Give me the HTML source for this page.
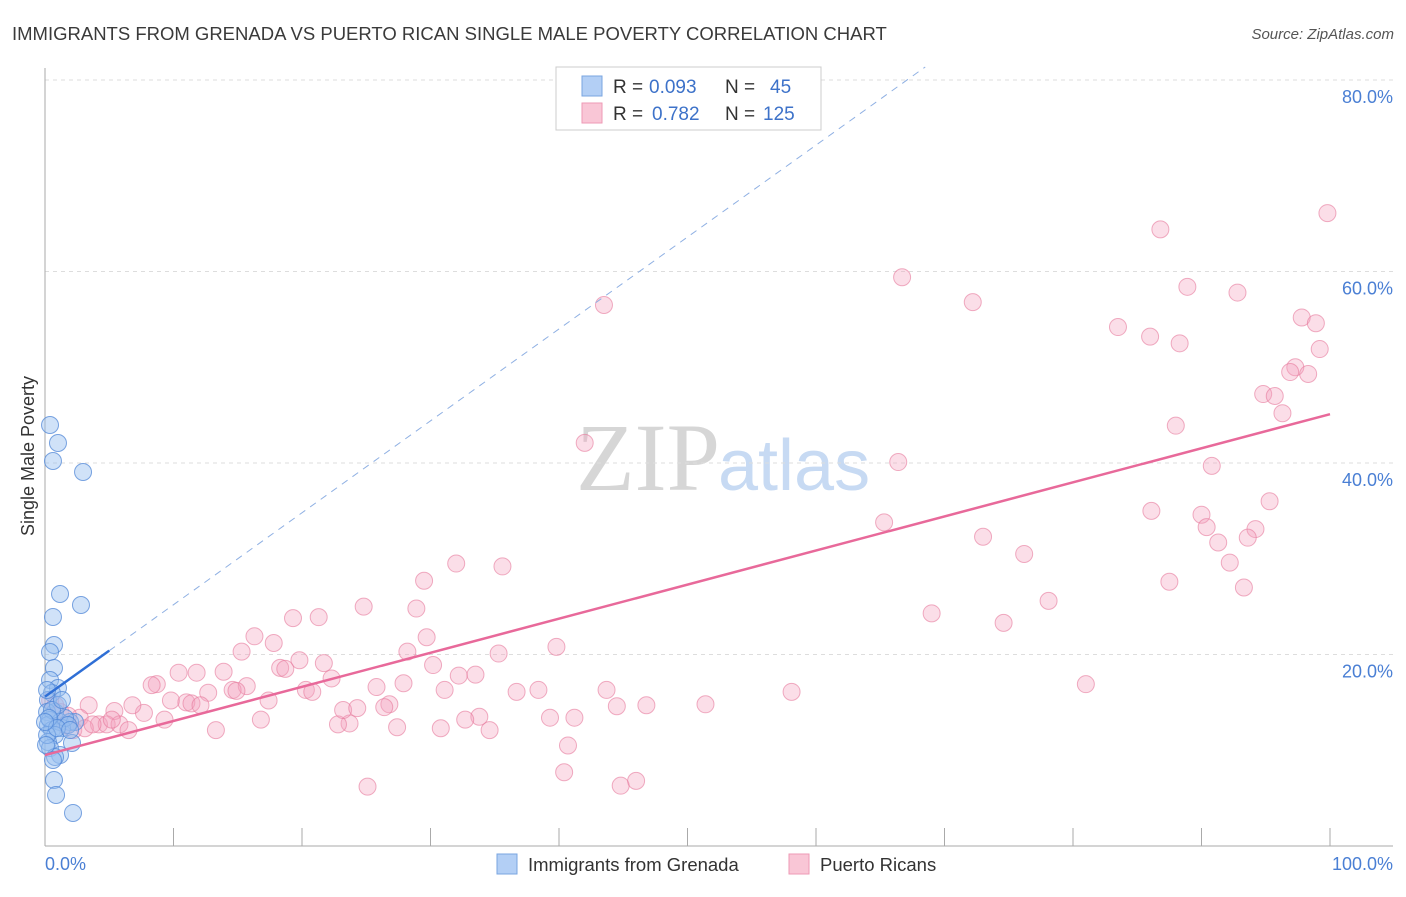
<!DOCTYPE html>
<html><head><meta charset="utf-8"><style>
body{margin:0;background:#fff;font-family:"Liberation Sans",sans-serif}
svg text{font-family:"Liberation Sans",sans-serif}
</style></head><body>
<svg width="1406" height="892">
<text x="12" y="40" font-size="18.5" fill="#3a3a3a">IMMIGRANTS FROM GRENADA VS PUERTO RICAN SINGLE MALE POVERTY CORRELATION CHART</text>
<text x="1394" y="39" font-size="15" fill="#555" font-style="italic" text-anchor="end">Source: ZipAtlas.com</text>
<text x="720" y="490" font-size="96" fill="#d6d6d6" text-anchor="end" style="font-family:'Liberation Serif',serif">ZIP</text>
<text x="718" y="490" font-size="72" fill="#c7daf3">atlas</text>
<g id="grid"></g>
<g id="axes"></g>
<g id="pts"></g>
<g id="lines"></g>
<text transform="translate(34,456) rotate(-90)" font-size="18" fill="#333" text-anchor="middle">Single Male Poverty</text>
<text x="45" y="870" font-size="18" fill="#4a7fd4">0.0%</text>
<text x="1393" y="870" font-size="18" fill="#4a7fd4" text-anchor="end">100.0%</text>
<g>
<rect x="556" y="67" width="265" height="63" fill="#fff" stroke="#ccc"/>
<rect x="582" y="76" width="20" height="20" fill="#b3cff5" stroke="#7aa5e0"/>
<rect x="582" y="103" width="20" height="20" fill="#f9c6d6" stroke="#ee9ab5"/>
<text x="613" y="93" font-size="19" fill="#333">R =</text>
<text x="649" y="93" font-size="19" fill="#3d72c9">0.093</text>
<text x="725" y="93" font-size="19" fill="#333">N =</text>
<text x="770" y="93" font-size="19" fill="#3d72c9">45</text>
<text x="613" y="120" font-size="19" fill="#333">R =</text>
<text x="652" y="120" font-size="19" fill="#3d72c9">0.782</text>
<text x="725" y="120" font-size="19" fill="#333">N =</text>
<text x="763" y="120" font-size="19" fill="#3d72c9">125</text>
</g>
<g>
<rect x="497" y="854" width="20" height="20" fill="#b3cff5" stroke="#7aa5e0"/>
<text x="528" y="871" font-size="18.5" fill="#333">Immigrants from Grenada</text>
<rect x="789" y="854" width="20" height="20" fill="#f9c6d6" stroke="#ee9ab5"/>
<text x="820" y="871" font-size="18.5" fill="#333">Puerto Ricans</text>
</g>
</svg>
<script>
const yTicks=[20,40,60,80];
const yTickLabels=["20.0%","40.0%","60.0%","80.0%"];
const xTicks=[0,10,20,30,40,50,60,70,80,90,100];
const blueX=[0.39,1.01,0.62,2.96,1.17,2.80,0.62,0.70,0.39,0.70,0.39,1.01,0.54,0.23,0.78,0.16,0.39,0.23,0.54,1.17,1.95,2.33,1.32,0.78,0.23,2.10,0.39,1.17,0.78,0.70,0.86,2.18,0.16,1.56,1.01,0.16,0.54,1.79,0.31,0.93,0,1.32,0.62,0.08,1.95];
const blueY=[43.97,42.09,40.21,39.06,26.32,25.17,23.92,20.99,20.26,18.59,17.34,16.5,15.98,15.25,13.99,13.99,13.16,12.64,12.11,12.95,12.95,12.95,12.32,11.59,10.86,10.76,10.23,9.5,9.3,6.89,5.33,3.45,11.59,13.37,14.73,16.29,14.2,12.64,13.37,12.32,12.95,15.25,8.98,10.55,12.11];
const pinkX=[99.8,86.8,66.7,72.2,43.5,88.9,92.8,97.8,98.9,83.5,86.0,88.3,99.2,97.3,96.9,98.3,94.8,95.7,96.3,88.0,42.0,66.4,90.8,95.3,65.3,86.1,90.0,90.4,94.2,73.0,91.3,93.6,76.2,92.2,87.5,93.3,78.1,69.0,74.6,81.0,58.1,51.4,46.8,44.5,43.7,39.8,35.3,35.6,32.0,29.5,28.9,29.7,28.2,30.2,32.2,33.5,31.1,36.7,38.4,39.3,41.2,40.7,40.4,44.8,46.0,34.6,33.8,32.7,30.8,27.9,25.8,26.8,26.4,27.4,25.1,24.8,23.7,22.8,23.2,24.3,22.3,21.7,21.3,19.3,19.8,17.8,16.3,15.3,18.3,18.7,20.3,20.8,17.4,15.7,14.6,14.9,12.7,13.9,11.8,10.4,8.7,8.3,9.8,11.0,11.4,12.1,7.7,6.8,5.4,3.4,2.7,4.2,4.8,5.8,6.5,9.3,13.3,16.8,1.2,0.8,1.6,2.2,3.1,3.7,0.4,1.8,5.2];
const pinkY=[66.1,64.4,59.4,56.8,56.5,58.4,57.8,55.2,54.6,54.2,53.2,52.5,51.9,50.0,49.5,49.3,47.2,47.0,45.2,43.9,42.1,40.1,39.7,36.0,33.8,35.0,34.6,33.3,33.1,32.3,31.7,32.2,30.5,29.6,27.6,27.0,25.6,24.3,23.3,16.9,16.1,14.8,14.7,14.6,16.3,20.8,20.1,29.2,29.5,27.7,24.8,21.8,20.3,18.9,17.8,17.9,16.3,16.1,16.3,13.4,13.4,10.5,7.7,6.3,6.8,12.1,13.5,13.2,12.3,17.0,16.6,14.8,14.5,12.4,6.2,25.0,12.8,12.7,14.2,14.4,17.5,19.1,23.9,23.8,19.4,21.2,21.9,20.3,18.6,18.5,16.3,16.1,15.2,16.7,16.3,16.2,16.0,18.2,18.1,18.1,16.9,16.8,15.2,15.0,14.9,14.7,13.9,14.7,14.1,14.7,13.4,12.7,12.7,12.7,12.1,13.2,12.1,13.2,14.0,14.7,12.6,12.1,12.3,12.7,15.2,13.6,13.2];
const pinkTrend=[9.5,45.1];
const blueTrend=[15.6,0.96];
const NS="http://www.w3.org/2000/svg";
const X=v=>45+v*12.85, Y=v=>846-v*9.575;
function mk(tag,attrs,parent){const e=document.createElementNS(NS,tag);for(const k in attrs)e.setAttribute(k,attrs[k]);parent.appendChild(e);return e;}
const grid=document.getElementById('grid'),axes=document.getElementById('axes'),pts=document.getElementById('pts'),lines=document.getElementById('lines');
yTicks.forEach((t,i)=>{
 const l=mk('line',{x1:45,x2:1393,y1:Y(t),y2:Y(t),stroke:'#ddd','stroke-dasharray':'4,4'},grid);
 
 
 const tx=mk('text',{x:1393,y:Y(t)+23,'font-size':18,fill:'#4a7fd4','text-anchor':'end'},grid);
 tx.textContent=yTickLabels[i];
 
 
});
const ya=mk('line',{x1:45,x2:45,y1:68,y2:846,stroke:'#aaa'},axes);


const xa=mk('line',{x1:45,x2:1393,y1:846,y2:846,stroke:'#aaa'},axes);


xTicks.forEach(t=>{const k=mk('line',{x1:X(t),x2:X(t),y1:828,y2:846,stroke:'#aaa'},axes);
 
 });
pinkX.forEach((v,i)=>{const c=mk('circle',{cx:X(v),cy:Y(pinkY[i]),r:8.5,fill:'rgba(244,160,188,0.35)',stroke:'rgba(230,120,155,0.6)','stroke-width':1},pts);
 
 });
blueX.forEach((v,i)=>{const c=mk('circle',{cx:X(v),cy:Y(blueY[i]),r:8.5,fill:'rgba(150,190,240,0.45)',stroke:'rgba(80,135,215,0.75)','stroke-width':1},pts);
 
 });
const pl=mk('line',{x1:X(0),y1:Y(pinkTrend[0]),x2:X(100),y2:Y(pinkTrend[1]),stroke:'#e8699a','stroke-width':2.5},lines);


const bd=mk('line',{x1:X(5),y1:Y(blueTrend[0]+5*blueTrend[1]),x2:X(68.5),y2:Y(blueTrend[0]+68.5*blueTrend[1]),stroke:'#8fb0e3','stroke-width':1,'stroke-dasharray':'7,6'},lines);


const bl=mk('line',{x1:X(0),y1:Y(blueTrend[0]),x2:X(5),y2:Y(blueTrend[0]+5*blueTrend[1]),stroke:'#2f6fd6','stroke-width':2.5},lines);


</script>
</body></html>
